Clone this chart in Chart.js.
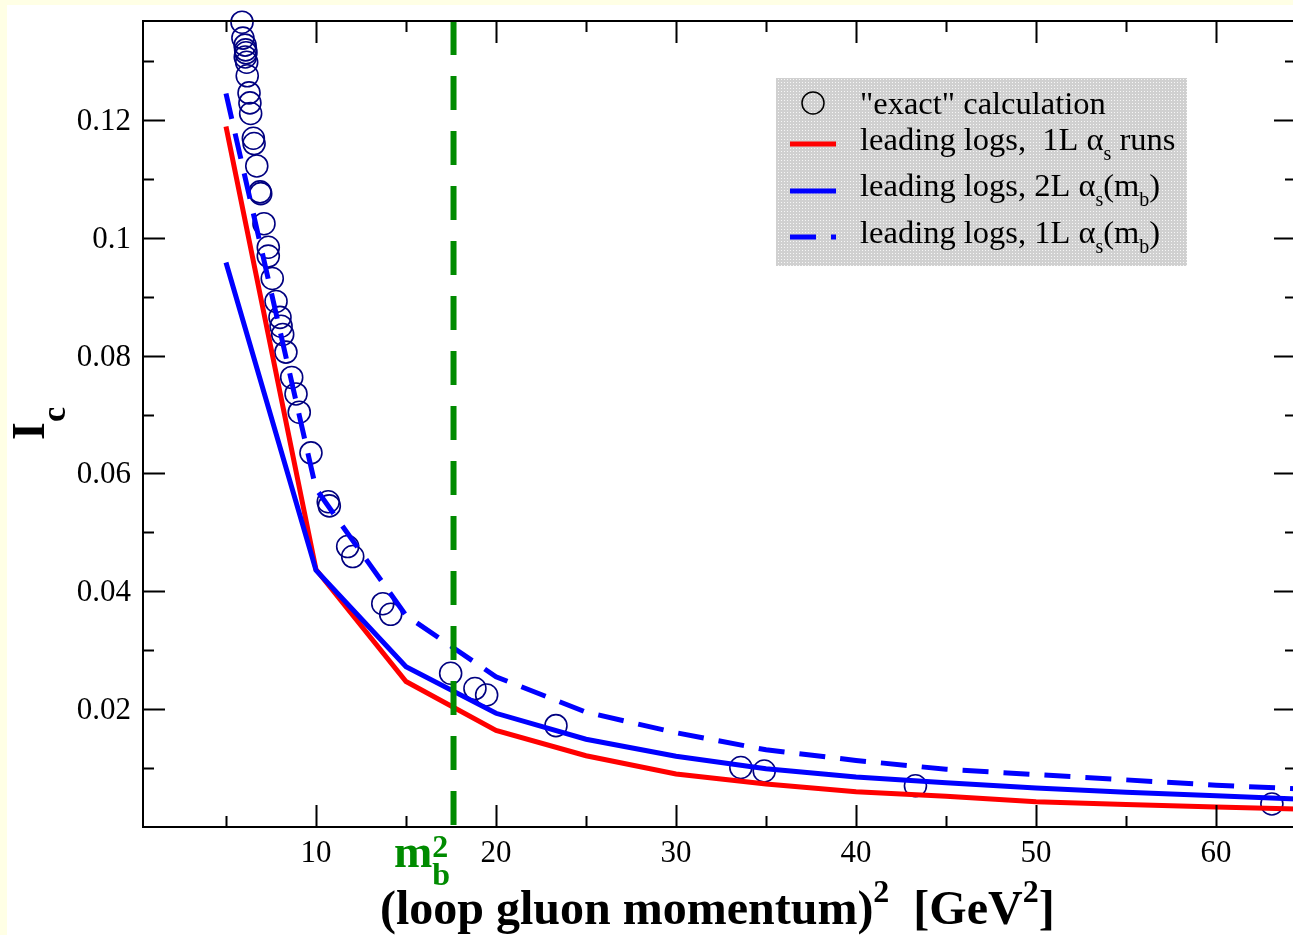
<!DOCTYPE html>
<html>
<head>
<meta charset="utf-8">
<script src="https://cdn.jsdelivr.net/npm/chart.js@4.4.0/dist/chart.umd.min.js"></script>
<style>
  html, body { margin: 0; padding: 0; overflow: hidden; background: #ffffe5; }
  canvas { display: block; }
</style>
</head>
<body>
<canvas id="plot" width="1300" height="935"></canvas>
<script>
  // DATA
  const exactX = [5.89, 5.94, 6.06, 6.09, 6.11, 6.07, 6.15, 6.18, 6.28, 6.33, 6.37, 6.52, 6.56, 6.71, 6.89, 6.93,
                  7.11, 7.35, 7.35, 7.57, 7.78, 8.00, 8.06, 8.15, 8.33, 8.65, 8.89, 9.07, 9.72, 10.68, 10.74,
                  11.76, 12.04, 13.71, 14.15, 17.48, 18.83, 19.48, 23.33, 33.6, 34.9, 43.3, 63.1];
  const exactY = [0.1366, 0.1339, 0.1327, 0.1319, 0.1314, 0.1307, 0.1298, 0.1275, 0.1246, 0.1229, 0.1211, 0.1169,
                  0.1160, 0.1122, 0.1078, 0.1075, 0.1024, 0.0984, 0.0969, 0.0931, 0.0892, 0.0865, 0.0850, 0.0836,
                  0.0806, 0.0763, 0.0735, 0.0704, 0.0635, 0.0552, 0.0545, 0.0476, 0.0459, 0.0379, 0.0361, 0.0261,
                  0.0235, 0.0224, 0.0172, 0.0101, 0.0095, 0.0070, 0.0039];

  const llX         = [5, 10, 15, 20, 25, 30, 35, 40, 45, 50, 55, 60, 65];
  const ll1LRuns    = [0.1189, 0.0437, 0.0247, 0.0164, 0.0121, 0.0090, 0.0073, 0.0060, 0.0052, 0.0043, 0.0038, 0.0034, 0.0030];
  const ll2LFixed   = [0.0958, 0.0436, 0.0272, 0.0193, 0.0149, 0.0120, 0.0099, 0.0085, 0.0075, 0.0066, 0.0059, 0.0053, 0.0047];
  const ll1LFixed   = [0.1245, 0.0574, 0.0359, 0.0255, 0.0195, 0.0160, 0.0131, 0.0113, 0.0098, 0.0089, 0.0080, 0.0071, 0.0064];

  const mb2 = 4.2 * 4.2;   // b quark mass squared
  const mbLineY = [0, 0.1368];

  const xMajorTicks = [10, 20, 30, 40, 50, 60];
  const xMinorTicks = [5, 15, 25, 35, 45, 55];
  const yMajorTicks = [0.02, 0.04, 0.06, 0.08, 0.1, 0.12];
  const yMinorTicks = [0.01, 0.03, 0.05, 0.07, 0.09, 0.11, 0.13];
  const yTickLabels = ['0.02', '0.04', '0.06', '0.08', '0.1', '0.12'];

  // STYLE
  const X_MIN = 0.39, X_MAX = 64.44, Y_MIN = 0, Y_MAX = 0.1368;
  const RED = '#ff0000', BLUE = '#0000ff', GREEN = '#008b00', NAVY = '#000080';
  const SERIF = '"Liberation Serif", "DejaVu Serif", serif';
  const LINE_W = 5;

  const pts = (xs, ys) => xs.map((x, i) => ({ x, y: ys[i] }));

  function drawRuns(ctx, x, y, runs) {
    let cx = x;
    runs.forEach(([text, font, dy]) => {
      ctx.font = font;
      ctx.fillText(text, cx, y + dy);
      cx += ctx.measureText(text).width;
    });
    return cx;
  }

  // dotted grey fill for the legend box
  const patCanvas = document.createElement('canvas');
  patCanvas.width = 3; patCanvas.height = 3;
  const pctx = patCanvas.getContext('2d');
  pctx.fillStyle = '#d0d0d0'; pctx.fillRect(0, 0, 3, 3);
  pctx.fillStyle = '#f6f6f6'; pctx.fillRect(1, 1, 1, 1);

  const paper = {
    id: 'paper',
    beforeDraw: (chart) => {
      const { ctx, width, height } = chart;
      ctx.save();
      ctx.fillStyle = '#ffffe5';
      ctx.fillRect(0, 0, width, height);
      ctx.fillStyle = '#ffffff';
      ctx.fillRect(7, 5, width - 7, height - 5);
      ctx.restore();
    }
  };

  const frame = {
    id: 'frame',
    afterDraw: (chart) => {
      const { ctx, chartArea: a, scales: { x, y } } = chart;
      ctx.save();
      ctx.strokeStyle = '#000';
      ctx.lineWidth = 2;
      ctx.strokeRect(a.left, a.top, a.right - a.left, a.bottom - a.top);

      ctx.beginPath();
      const xt = (v, len) => {
        const px = Math.round(x.getPixelForValue(v)) + 0.5;
        ctx.moveTo(px, a.bottom); ctx.lineTo(px, a.bottom - len);
        ctx.moveTo(px, a.top); ctx.lineTo(px, a.top + len);
      };
      const yt = (v, len) => {
        const py = Math.round(y.getPixelForValue(v)) + 0.5;
        ctx.moveTo(a.left, py); ctx.lineTo(a.left + len, py);
        ctx.moveTo(a.right, py); ctx.lineTo(a.right - len, py);
      };
      xMajorTicks.forEach(v => xt(v, 22));
      xMinorTicks.forEach(v => xt(v, 11));
      yMajorTicks.forEach(v => yt(v, 22));
      yMinorTicks.forEach(v => yt(v, 11));
      ctx.lineWidth = 2;
      ctx.stroke();

      // tick labels
      ctx.fillStyle = '#000';
      ctx.font = `31px ${SERIF}`;
      ctx.textAlign = 'center';
      ctx.textBaseline = 'alphabetic';
      xMajorTicks.forEach(v => ctx.fillText(String(v), x.getPixelForValue(v), 862));
      ctx.textAlign = 'right';
      yMajorTicks.forEach((v, i) => ctx.fillText(yTickLabels[i], 131, y.getPixelForValue(v) + 10));

      // axis titles
      ctx.textAlign = 'left';
      const B48 = `bold 48px ${SERIF}`, B32 = `bold 32px ${SERIF}`;
      drawRuns(ctx, 380, 924, [
        ['(loop gluon momentum)', B48, 0], ['2', B32, -22],
        ['  [GeV', B48, 0], ['2', B32, -22], [']', B48, 0]
      ]);

      ctx.save();
      ctx.translate(44, 440);
      ctx.rotate(-Math.PI / 2);
      drawRuns(ctx, 0, 0, [['I', `bold 46px ${SERIF}`, 0], ['c', `bold 34px ${SERIF}`, 21]]);
      ctx.restore();

      // m_b^2 marker label
      ctx.fillStyle = GREEN;
      ctx.font = `bold 46px ${SERIF}`;
      ctx.fillText('m', 394, 867);
      const mw = ctx.measureText('m').width;
      ctx.font = `bold 32px ${SERIF}`;
      ctx.fillText('2', 394 + mw, 857);
      ctx.fillText('b', 394 + mw, 885);

      // legend
      const L = { left: 776, top: 78, right: 1187, bottom: 266 };
      ctx.fillStyle = ctx.createPattern(patCanvas, 'repeat');
      ctx.fillRect(L.left, L.top, L.right - L.left, L.bottom - L.top);

      ctx.strokeStyle = '#000';
      ctx.lineWidth = 1.5;
      ctx.beginPath();
      ctx.arc(813, 103, 11, 0, Math.PI * 2);
      ctx.stroke();

      ctx.lineWidth = LINE_W;
      ctx.lineCap = 'butt';
      ctx.strokeStyle = RED;
      ctx.beginPath(); ctx.moveTo(790, 144); ctx.lineTo(836, 144); ctx.stroke();
      ctx.strokeStyle = BLUE;
      ctx.beginPath(); ctx.moveTo(790, 191); ctx.lineTo(836, 191); ctx.stroke();
      ctx.setLineDash([26, 15]);
      ctx.beginPath(); ctx.moveTo(790, 237); ctx.lineTo(836, 237); ctx.stroke();
      ctx.setLineDash([]);

      ctx.fillStyle = '#000';
      const R32 = `32.5px ${SERIF}`, R20 = `20px ${SERIF}`;
      drawRuns(ctx, 860, 114, [['"exact" calculation', R32, 0]]);
      drawRuns(ctx, 860, 150, [['leading logs,  1L \u03b1', R32, 0], ['s', R20, 10], [' runs', R32, 0]]);
      drawRuns(ctx, 860, 196, [['leading logs, 2L \u03b1', R32, 0], ['s', R20, 10], ['(m', R32, 0], ['b', R20, 10], [')', R32, 0]]);
      drawRuns(ctx, 860, 243, [['leading logs, 1L \u03b1', R32, 0], ['s', R20, 10], ['(m', R32, 0], ['b', R20, 10], [')', R32, 0]]);
      ctx.restore();
    }
  };

  const chart = new Chart(document.getElementById('plot').getContext('2d'), {
    type: 'scatter',
    data: {
      datasets: [
        { label: 'm_b^2', data: pts([mb2, mb2], mbLineY.slice().reverse()), showLine: true,
          borderColor: GREEN, borderWidth: 6, borderDash: [34, 21], pointRadius: 0 },
        { label: 'leading logs, 1L alpha_s(m_b)', data: pts(llX, ll1LFixed), showLine: true,
          borderColor: BLUE, borderWidth: LINE_W, borderDash: [26, 15], pointRadius: 0 },
        { label: 'leading logs, 2L alpha_s(m_b)', data: pts(llX, ll2LFixed), showLine: true,
          borderColor: BLUE, borderWidth: LINE_W, pointRadius: 0 },
        { label: 'leading logs, 1L alpha_s runs', data: pts(llX, ll1LRuns), showLine: true,
          borderColor: RED, borderWidth: LINE_W, pointRadius: 0 },
        { label: '"exact" calculation', data: pts(exactX, exactY), showLine: false,
          pointStyle: 'circle', pointRadius: 11, pointBorderWidth: 1.6,
          pointBorderColor: NAVY, pointBackgroundColor: 'rgba(0,0,0,0)', clip: false }
      ]
    },
    options: {
      responsive: false,
      animation: false,
      devicePixelRatio: 1,
      events: [],
      layout: { autoPadding: false, padding: { left: 143, top: 21, right: 4, bottom: 108 } },
      plugins: { legend: { display: false }, tooltip: { enabled: false } },
      scales: {
        x: { type: 'linear', display: false, min: X_MIN, max: X_MAX },
        y: { type: 'linear', display: false, min: Y_MIN, max: Y_MAX }
      }
    },
    plugins: [paper, frame]
  });
</script>
</body>
</html>
